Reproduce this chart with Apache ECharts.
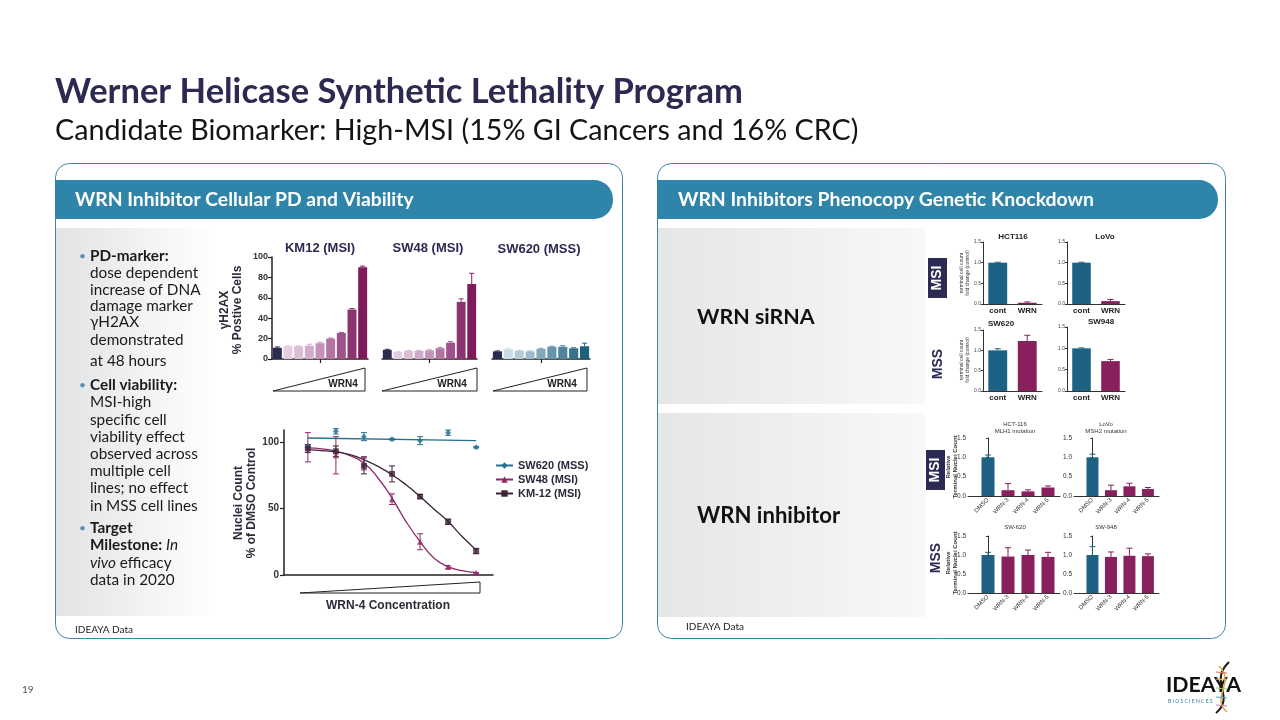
<!DOCTYPE html>
<html><head><meta charset="utf-8">
<script src="https://cdn.jsdelivr.net/npm/echarts@6/dist/echarts.min.js"></script>
<style>html,body{margin:0;padding:0;background:#fff}#c{width:1280px;height:720px}</style>
</head><body><div id="c"></div>
<script>
// ================= DATA =================
// γH2AX % positive cells (9 doses: DMSO + 8 WRN4 levels)
const pdGroups = ['KM12 (MSI)', 'SW48 (MSI)', 'SW620 (MSS)'];
const pdDoses = ['0', '1', '2', '3', '4', '5', '6', '7', '8'];
const pdTicks = [0, 20, 40, 60, 80, 100];
const km12H2ax = [11, 12.5, 12.5, 13, 15.5, 20, 25.5, 48.5, 90];
const km12H2axErr = [0.8, 0.4, 0.4, 1.5, 1, 0.5, 0.5, 1, 1];
const sw48H2ax = [9, 7, 8, 8, 8.5, 10.5, 16, 56, 73.5];
const sw48H2axErr = [0.5, 0.3, 0.3, 0.4, 0.5, 0.7, 1, 3, 10.5];
const sw620H2ax = [7.5, 9.5, 8, 7.5, 10, 12, 12, 10.5, 12.5];
const sw620H2axErr = [0.4, 1, 0.4, 0.4, 0.5, 0.5, 1, 0.5, 3];

// Nuclei count % of DMSO (7 WRN-4 concentrations)
const viaNames = ['SW620 (MSS)', 'SW48 (MSI)', 'KM-12 (MSI)'];
const concLevels = [1, 2, 3, 4, 5, 6, 7];
const viaTicks = [0, 50, 100];
const sw620Via = [97, 108, 104, 102, 101, 107, 96];
const sw620ViaErr = [1, 2, 3, 0.5, 3, 2, 0.5];
const sw48Via = [96, 90, 84, 57, 25, 6, 1.5];
const sw48ViaErr = [11, 14, 5, 4, 6, 1, 0.5];
const km12Via = [95, 93, 82, 76, 59, 40, 18];
const km12ViaErr = [3, 4, 6, 6, 1.5, 2, 2];
// fitted curves
const sw620FitX = [1, 7];
const sw620Fit = [103, 101];
const fitX = [1, 1.5, 2, 2.5, 3, 3.5, 4, 4.5, 5, 5.5, 6, 6.5, 7];
const sw48Fit = [95.5, 94.8, 93, 89.7, 84.2, 72.9, 57.8, 40.2, 25.1, 12.6, 6.3, 3.3, 1.8];
const km12Fit = [94.2, 93.5, 92.5, 90.5, 86.7, 81.7, 75.4, 67.8, 59, 49.5, 40.2, 28.9, 18.8];

// siRNA terminal cell count fold change
const sirnaCats = ['cont', 'WRN'];
const sirnaTitles = ['HCT116', 'LoVo', 'SW620', 'SW948'];
const foldTicks = [0, 0.5, 1, 1.5];
const hct116Sirna = [1.0, 0.03];   const hct116SirnaErr = [0.01, 0.02];
const lovoSirna = [1.0, 0.07];     const lovoSirnaErr = [0.01, 0.04];
const sw620Sirna = [1.0, 1.23];    const sw620SirnaErr = [0.04, 0.14];
const sw948Sirna = [1.0, 0.7];     const sw948SirnaErr = [0.01, 0.04];

// WRN inhibitor relative terminal nuclei count
const inhCats = ['DMSO', 'WRN-3', 'WRN-4', 'WRN-5'];
const inhPos = [0, 1, 2, 3];
const inhTitles = [['HCT-116', 'MLH1 mutation'], ['LoVo', 'MSH2 mutation'], ['SW-620'], ['SW-948']];
const hct116Inh = [1.0, 0.15, 0.12, 0.22]; const hct116InhErr = [0.06, 0.17, 0.04, 0.04];
const lovoInh = [1.0, 0.15, 0.25, 0.18];   const lovoInhErr = [0.08, 0.13, 0.08, 0.04];
const sw620Inh = [1.0, 0.96, 1.0, 0.95];   const sw620InhErr = [0.07, 0.23, 0.13, 0.12];
const sw948Inh = [1.0, 0.95, 0.98, 0.97];  const sw948InhErr = [0.22, 0.13, 0.2, 0.06];

// ================= STYLE =================
const NAVY = '#2b2a52';
const TEAL_BAR = '#1e6283';
const MAROON = '#87205d';
const magentaRamp = ['#2b2a52', '#e5cde1', '#dbbdd5', '#d2abca', '#c592bb', '#b273a3', '#9c528a', '#8b3470', '#7c1a5b'];
const tealRamp = ['#2b2a52', '#c9dbe3', '#b2cbd6', '#9dbccb', '#82a8ba', '#6595aa', '#4e859c', '#35738d', '#1c607e'];
const C620 = '#27708f', C48 = '#8f2a68', CKM = '#3d2339';
const FS = 'Lato, "Open Sans", sans-serif';
const FC = '"Liberation Sans", Arial, sans-serif';

const mctx = document.createElement('canvas').getContext('2d');
function fit(text, weight, target, family) {
  mctx.font = weight + ' 100px ' + family;
  return Math.round(100 * target / mctx.measureText(text).width * 10) / 10;
}

// ================= BUILD =================
const grids = [], xAxes = [], yAxes = [], series = [];
function errorBars(ai, xs, vals, errs, colors, cap, both) {
  return {
    type: 'custom', xAxisIndex: ai, yAxisIndex: ai, silent: true, z: 6,
    data: vals.map((v, i) => [xs[i], v, errs[i], i]),
    renderItem: function (params, api) {
      const x = api.value(0), v = api.value(1), e = api.value(2), i = api.value(3);
      const col = Array.isArray(colors) ? colors[i] : colors;
      const p1 = api.coord([x, v + e]);
      const p0 = api.coord([x, both ? v - e : v]);
      const st = { stroke: col, lineWidth: 1 };
      const ch = [
        { type: 'line', shape: { x1: p1[0], y1: p1[1], x2: p0[0], y2: p0[1] }, style: st },
        { type: 'line', shape: { x1: p1[0] - cap, y1: p1[1], x2: p1[0] + cap, y2: p1[1] }, style: st }
      ];
      if (both) ch.push({ type: 'line', shape: { x1: p0[0] - cap, y1: p0[1], x2: p0[0] + cap, y2: p0[1] }, style: st });
      return { type: 'group', children: ch };
    }
  };
}

// ---- top-left γH2AX bar groups ----
const pdSets = [
  { vals: km12H2ax, err: km12H2axErr, cols: magentaRamp, g: { left: 272, top: 257, width: 96, height: 102 } },
  { vals: sw48H2ax, err: sw48H2axErr, cols: magentaRamp, g: { left: 382, top: 257, width: 95, height: 102 } },
  { vals: sw620H2ax, err: sw620H2axErr, cols: tealRamp, g: { left: 492, top: 257, width: 98, height: 102 } }
];
pdSets.forEach((s, k) => {
  const gi = grids.length;
  grids.push(s.g);
  xAxes.push({
    gridIndex: gi, type: 'category', data: pdDoses,
    axisLine: { lineStyle: { color: '#222', width: 1.5 } },
    axisTick: { show: true, alignWithLabel: true, length: 4, interval: (idx) => idx === 4, lineStyle: { color: '#222', width: 1.2 } },
    axisLabel: { show: false }
  });
  yAxes.push({
    gridIndex: gi, type: 'value', min: 0, max: 100, interval: 20, show: k === 0,
    axisLine: { show: true, lineStyle: { color: '#222', width: 1.5 } },
    axisTick: { show: true, length: 4, lineStyle: { color: '#222', width: 1.2 } },
    axisLabel: { fontSize: 9, fontWeight: 'bold', color: '#333', margin: 4, fontFamily: FC },
    splitLine: { show: false }
  });
  series.push({
    type: 'bar', xAxisIndex: gi, yAxisIndex: gi, barWidth: '84%', silent: true,
    data: s.vals.map((v, i) => ({ value: v, itemStyle: { color: s.cols[i] } }))
  });
  series.push(errorBars(gi, pdDoses.map((d, i) => i), s.vals, s.err, s.cols, 2.5, false));
});

// ---- dose response ----
const dgi = grids.length;
grids.push({ left: 284, top: 430, width: 209, height: 145 });
xAxes.push({
  gridIndex: dgi, type: 'value', min: 0.15, max: 7.6,
  axisLine: { show: true, lineStyle: { color: '#222', width: 1.5 } },
  axisTick: { show: false }, axisLabel: { show: false }, splitLine: { show: false }
});
yAxes.push({
  gridIndex: dgi, type: 'value', min: 0, max: 109,
  axisLine: { show: true, lineStyle: { color: '#222', width: 1.5 } },
  axisTick: { show: true, length: 4, customValues: viaTicks, lineStyle: { color: '#222', width: 1.2 } },
  axisLabel: { customValues: viaTicks, fontSize: 10, fontWeight: 'bold', color: '#333', margin: 5, fontFamily: FC },
  splitLine: { show: false }
});
const viaSets = [
  { name: viaNames[0], col: C620, sym: 'diamond', size: 6, fx: sw620FitX, fy: sw620Fit, y: sw620Via, e: sw620ViaErr, smooth: false },
  { name: viaNames[1], col: C48, sym: 'triangle', size: 6, fx: fitX, fy: sw48Fit, y: sw48Via, e: sw48ViaErr, smooth: true },
  { name: viaNames[2], col: CKM, sym: 'rect', size: 6, fx: fitX, fy: km12Fit, y: km12Via, e: km12ViaErr, smooth: true }
];
viaSets.forEach(s => {
  series.push({
    name: s.name, type: 'line', xAxisIndex: dgi, yAxisIndex: dgi, smooth: s.smooth, silent: true,
    symbol: s.sym, symbolSize: s.size, showSymbol: false, color: s.col,
    lineStyle: { color: s.col, width: 1.3 },
    data: s.fx.map((x, i) => [x, s.fy[i]])
  });
});
viaSets.forEach(s => {
  series.push({
    name: s.name, type: 'scatter', xAxisIndex: dgi, yAxisIndex: dgi, silent: true, z: 7,
    symbol: s.sym, symbolSize: s.size, itemStyle: { color: s.col },
    data: concLevels.map((x, i) => [x, s.y[i]])
  });
  series.push(errorBars(dgi, concLevels, s.y, s.e, s.col, 3, true));
});

// ---- siRNA small charts ----
const sirnaSets = [
  { v: hct116Sirna, e: hct116SirnaErr, g: { left: 983, top: 242, width: 59, height: 62 } },
  { v: lovoSirna, e: lovoSirnaErr, g: { left: 1067, top: 242, width: 58, height: 62 } },
  { v: sw620Sirna, e: sw620SirnaErr, g: { left: 983, top: 330, width: 59, height: 61 } },
  { v: sw948Sirna, e: sw948SirnaErr, g: { left: 1067, top: 327, width: 58, height: 64 } }
];
sirnaSets.forEach(s => {
  const gi = grids.length;
  grids.push(s.g);
  xAxes.push({
    gridIndex: gi, type: 'category', data: sirnaCats,
    axisLine: { lineStyle: { color: '#333', width: 1 } }, axisTick: { show: false },
    axisLabel: { fontSize: 8, fontWeight: 'bold', color: '#222', margin: 3, fontFamily: FC }
  });
  yAxes.push({
    gridIndex: gi, type: 'value', min: 0, max: 1.5, interval: 0.5,
    axisLine: { show: true, lineStyle: { color: '#333', width: 1 } },
    axisTick: { show: true, length: 2, lineStyle: { color: '#333' } },
    axisLabel: { fontSize: 5, color: '#444', margin: 2, fontFamily: FC, formatter: v => v.toFixed(1) },
    splitLine: { show: false }
  });
  const cols = [TEAL_BAR, MAROON];
  series.push({
    type: 'bar', xAxisIndex: gi, yAxisIndex: gi, barWidth: '64%', silent: true,
    data: s.v.map((v, i) => ({ value: v, itemStyle: { color: cols[i] } }))
  });
  series.push(errorBars(gi, [0, 1], s.v, s.e, cols, 3, false));
});

// ---- inhibitor small charts ----
const inhSets = [
  { v: hct116Inh, e: hct116InhErr, bw: 13, g: { left: 968, top: 438, width: 92, height: 58 } },
  { v: lovoInh, e: lovoInhErr, bw: 12, g: { left: 1074, top: 438, width: 85, height: 58 } },
  { v: sw620Inh, e: sw620InhErr, bw: 13, g: { left: 968, top: 536, width: 92, height: 57 } },
  { v: sw948Inh, e: sw948InhErr, bw: 12, g: { left: 1074, top: 536, width: 85, height: 57 } }
];
inhSets.forEach(s => {
  const gi = grids.length;
  grids.push(s.g);
  xAxes.push({
    gridIndex: gi, type: 'value', min: -1, max: 3.6,
    axisLine: { show: true, onZero: false, lineStyle: { color: '#333', width: 1 } }, axisTick: { show: false },
    axisLabel: { customValues: inhPos, formatter: v => inhCats[v], rotate: 45, fontSize: 6, color: '#333', margin: 3, fontFamily: FC },
    splitLine: { show: false }
  });
  yAxes.push({
    gridIndex: gi, type: 'value', min: 0, max: 1.5, interval: 0.5,
    axisLine: { show: true, lineStyle: { color: '#333', width: 1 } },
    axisTick: { show: true, length: 2, lineStyle: { color: '#333' } },
    axisLabel: { fontSize: 6.5, color: '#333', margin: 2, fontFamily: FC, formatter: v => v.toFixed(1) },
    splitLine: { show: false }
  });
  const cols = [TEAL_BAR, MAROON, MAROON, MAROON];
  series.push({
    type: 'bar', xAxisIndex: gi, yAxisIndex: gi, barWidth: s.bw, silent: true,
    data: s.v.map((v, i) => ({ value: [inhPos[i], v], itemStyle: { color: cols[i] } }))
  });
  series.push(errorBars(gi, inhPos, s.v, s.e, cols, 3, false));
});

// ================= SLIDE GRAPHICS =================
const E = [];
function T(x, y, text, font, fill, extra) {
  const o = Object.assign({ align: 'left', vAlign: 'middle', rot: 0 }, extra || {});
  E.push({
    type: 'text', x: x, y: y, rotation: o.rot, z: 20, silent: true,
    style: Object.assign({
      text: text, font: font, fill: fill,
      textAlign: o.align, align: o.align, textVerticalAlign: o.vAlign, verticalAlign: o.vAlign
    }, o.rich ? { rich: o.rich } : {}, o.lineHeight ? { lineHeight: o.lineHeight } : {})
  });
}
function grad(c0, c1) {
  return new echarts.graphic.LinearGradient(0, 0, 1, 0, [{ offset: 0, color: c0 }, { offset: 1, color: c1 }]);
}
// panels
E.push({ type: 'rect', z: -5, silent: true, shape: { x: 55.5, y: 163.5, width: 567, height: 475, r: 14 }, style: { fill: '#fff', stroke: '#3d87a6', lineWidth: 1 } });
E.push({ type: 'rect', z: -5, silent: true, shape: { x: 657.5, y: 163.5, width: 568, height: 475, r: 14 }, style: { fill: '#fff', stroke: '#3d87a6', lineWidth: 1 } });
E.push({ type: 'rect', z: -4, silent: true, shape: { x: 56, y: 228, width: 160, height: 388 }, style: { fill: grad('#e2e3e5', '#ffffff') } });
E.push({ type: 'rect', z: -4, silent: true, shape: { x: 658, y: 228, width: 267, height: 176 }, style: { fill: grad('#e5e6e8', '#f8f8f8') } });
E.push({ type: 'rect', z: -4, silent: true, shape: { x: 658, y: 413, width: 267, height: 204 }, style: { fill: grad('#e5e6e8', '#f8f8f8') } });
E.push({ type: 'rect', z: -3, silent: true, shape: { x: 55, y: 180, width: 558, height: 39, r: [0, 19, 19, 0] }, style: { fill: '#2f85a9' } });
E.push({ type: 'rect', z: -3, silent: true, shape: { x: 657, y: 180, width: 561, height: 39, r: [0, 19, 19, 0] }, style: { fill: '#2f85a9' } });

// titles
const tTitle = 'Werner Helicase Synthetic Lethality Program';
T(55, 92, tTitle, 'bold ' + fit(tTitle, 'bold', 687, FS) + 'px ' + FS, '#2c2a50');
const tSub = 'Candidate Biomarker: High-MSI (15% GI Cancers and 16% CRC)';
T(55, 131, tSub, 'normal ' + fit(tSub, 'normal', 805, FS) + 'px ' + FS, '#141414');
const h1 = 'WRN Inhibitor Cellular PD and Viability';
T(75, 200, h1, 'bold ' + fit(h1, 'bold', 339, FS) + 'px ' + FS, '#ffffff');
const h2 = 'WRN Inhibitors Phenocopy Genetic Knockdown';
T(678, 200, h2, 'bold ' + fit(h2, 'bold', 416, FS) + 'px ' + FS, '#ffffff');
T(697, 317, 'WRN siRNA', 'bold ' + fit('WRN siRNA', 'bold', 118, FS) + 'px ' + FS, '#111');
T(697, 516, 'WRN inhibitor', 'bold ' + fit('WRN inhibitor', 'bold', 143, FS) + 'px ' + FS, '#111');
const srcF = 'normal ' + fit('IDEAYA Data', 'normal', 58, FS) + 'px ' + FS;
T(75, 630, 'IDEAYA Data', srcF, '#222');
T(686, 627, 'IDEAYA Data', srcF, '#222');
T(22, 690, '19', 'normal 10px ' + FS, '#555');

// bullet text
const bodySize = fit('observed across', 'normal', 108, FS);
const bRich = {
  n: { fontFamily: FS, fontSize: bodySize, color: '#1a1a1a' },
  b: { fontFamily: FS, fontSize: bodySize, fontWeight: 'bold', color: '#1a1a1a' },
  i: { fontFamily: FS, fontSize: bodySize, fontStyle: 'italic', color: '#1a1a1a' }
};
const bodyLines = [
  ['{b|PD-marker:}', 256, 1], ['{n|dose dependent}', 273], ['{n|increase of DNA}', 290], ['{n|damage marker}', 306],
  ['{n|γH2AX}', 322], ['{n|demonstrated}', 340], ['{n|at 48 hours}', 361],
  ['{b|Cell viability:}', 385, 1], ['{n|MSI-high}', 402], ['{n|specific cell}', 420], ['{n|viability effect}', 437],
  ['{n|observed across}', 454], ['{n|multiple cell}', 471], ['{n|lines; no effect}', 488], ['{n|in MSS cell lines}', 506],
  ['{b|Target}', 528, 1], ['{b|Milestone:}{n| }{i|In}', 545], ['{i|vivo}{n| efficacy}', 563], ['{n|data in 2020}', 580]
];
bodyLines.forEach(l => {
  T(90, l[1], l[0], 'normal ' + bodySize + 'px ' + FS, '#1a1a1a', { rich: bRich });
  if (l[2]) T(79, l[1], '•', 'normal 12px ' + FS, '#5b8fb0');
});

// γH2AX chart labels
const gtF = 'bold 13px ' + FC;
T(320, 248, pdGroups[0], gtF, NAVY, { align: 'center' });
T(428, 248, pdGroups[1], gtF, NAVY, { align: 'center' });
T(539, 249, pdGroups[2], gtF, NAVY, { align: 'center' });
T(231, 310, 'γH2AX\n% Postive Cells', 'bold 12px ' + FC, '#2a2a3a', { align: 'center', rot: Math.PI / 2, lineHeight: 13 });
[[273, 365, 343], [382, 477, 452], [493, 587, 562]].forEach(w => {
  E.push({ type: 'polygon', z: 10, silent: true, shape: { points: [[w[0], 391], [w[1], 391], [w[1], 368]] }, style: { fill: 'none', stroke: '#222', lineWidth: 1 } });
  T(w[2], 384, 'WRN4', 'bold 10px ' + FC, '#222', { align: 'center' });
});

// dose response labels
T(245, 503, 'Nuclei Count\n% of DMSO Control', 'bold 12px ' + FC, '#2a2a3a', { align: 'center', rot: Math.PI / 2, lineHeight: 13 });
E.push({ type: 'polygon', z: 10, silent: true, shape: { points: [[300, 593], [480, 593], [480, 582]] }, style: { fill: 'none', stroke: '#222', lineWidth: 1 } });
T(388, 606, 'WRN-4 Concentration', 'bold 12px ' + FC, '#2a2a3a', { align: 'center' });

// siRNA labels
const stF = 'bold 8px ' + FC;
T(1013, 237, sirnaTitles[0], stF, '#222', { align: 'center' });
T(1105, 237, sirnaTitles[1], stF, '#222', { align: 'center' });
T(1001, 324, sirnaTitles[2], stF, '#222', { align: 'center' });
T(1101, 322, sirnaTitles[3], stF, '#222', { align: 'center' });
T(965, 273, 'terminal cell count\nfold change (control)', 'normal 5px ' + FC, '#333', { align: 'center', rot: Math.PI / 2, lineHeight: 6 });
T(965, 360, 'terminal cell count\nfold change (control)', 'normal 5px ' + FC, '#333', { align: 'center', rot: Math.PI / 2, lineHeight: 6 });
E.push({ type: 'rect', z: 10, silent: true, shape: { x: 928, y: 258, width: 19, height: 40 }, style: { fill: NAVY } });
T(937.5, 278, 'MSI', 'bold 14px ' + FC, '#fff', { align: 'center', rot: Math.PI / 2 });
T(938, 364, 'MSS', 'bold 14px ' + FC, NAVY, { align: 'center', rot: Math.PI / 2 });

// inhibitor labels
const itF = 'normal 6px ' + FC;
T(1015, 428, inhTitles[0].join('\n'), itF, '#333', { align: 'center', lineHeight: 7 });
T(1106, 428, inhTitles[1].join('\n'), itF, '#333', { align: 'center', lineHeight: 7 });
T(1015, 527, inhTitles[2][0], itF, '#333', { align: 'center' });
T(1106, 527, inhTitles[3][0], itF, '#333', { align: 'center' });
T(952, 467, 'Relative\nTerminal Nuclei Count', 'bold 6px ' + FC, '#333', { align: 'center', rot: Math.PI / 2, lineHeight: 6.5 });
T(952, 563, 'Relative\nTerminal Nuclei Count', 'bold 6px ' + FC, '#333', { align: 'center', rot: Math.PI / 2, lineHeight: 6.5 });
E.push({ type: 'rect', z: 10, silent: true, shape: { x: 926, y: 450, width: 19, height: 40 }, style: { fill: NAVY } });
T(935.5, 470, 'MSI', 'bold 14px ' + FC, '#fff', { align: 'center', rot: Math.PI / 2 });
T(936, 558, 'MSS', 'bold 14px ' + FC, NAVY, { align: 'center', rot: Math.PI / 2 });

// logo
T(1166, 685, 'IDEAYA', 'bold ' + fit('IDEAYA', 'bold', 75, FS) + 'px ' + FS, '#111');
T(1168, 701, 'B I O S C I E N C E S', 'normal 5px ' + FS, '#2d7f9e');
E.push({ type: 'bezierCurve', z: 21, silent: true, shape: { x1: 1229, y1: 662, cpx1: 1208, cpy1: 682, cpx2: 1236, cpy2: 696, x2: 1216, y2: 713 }, style: { stroke: '#1a1a1a', lineWidth: 2, fill: 'none' } });
E.push({ type: 'bezierCurve', z: 21, silent: true, shape: { x1: 1219, y1: 666, cpx1: 1236, cpy1: 682, cpx2: 1210, cpy2: 698, x2: 1227, y2: 712 }, style: { stroke: '#e0a640', lineWidth: 1.5, fill: 'none' } });
[['#e86b5a', 672], ['#f0c44a', 679], ['#9cc65a', 688], ['#49a9c9', 697], ['#c77bb8', 705]].forEach(r => {
  E.push({ type: 'line', z: 21, silent: true, shape: { x1: 1216, y1: r[1], x2: 1227, y2: r[1] + 1 }, style: { stroke: r[0], lineWidth: 1.2 } });
});

const option = {
  animation: false,
  backgroundColor: '#ffffff',
  textStyle: { fontFamily: FC },
  grid: grids, xAxis: xAxes, yAxis: yAxes, series: series,
  legend: {
    data: viaNames, orient: 'vertical', left: 490, top: 455, itemGap: 3, itemWidth: 17, itemHeight: 8,
    selectedMode: false,
    textStyle: { fontFamily: FC, fontWeight: 'bold', fontSize: 11, color: '#2a2a3a' }
  },
  graphic: { elements: E }
};
const chart = echarts.init(document.getElementById('c'), null, { renderer: 'canvas', width: 1280, height: 720 });
chart.setOption(option);
</script></body></html>
